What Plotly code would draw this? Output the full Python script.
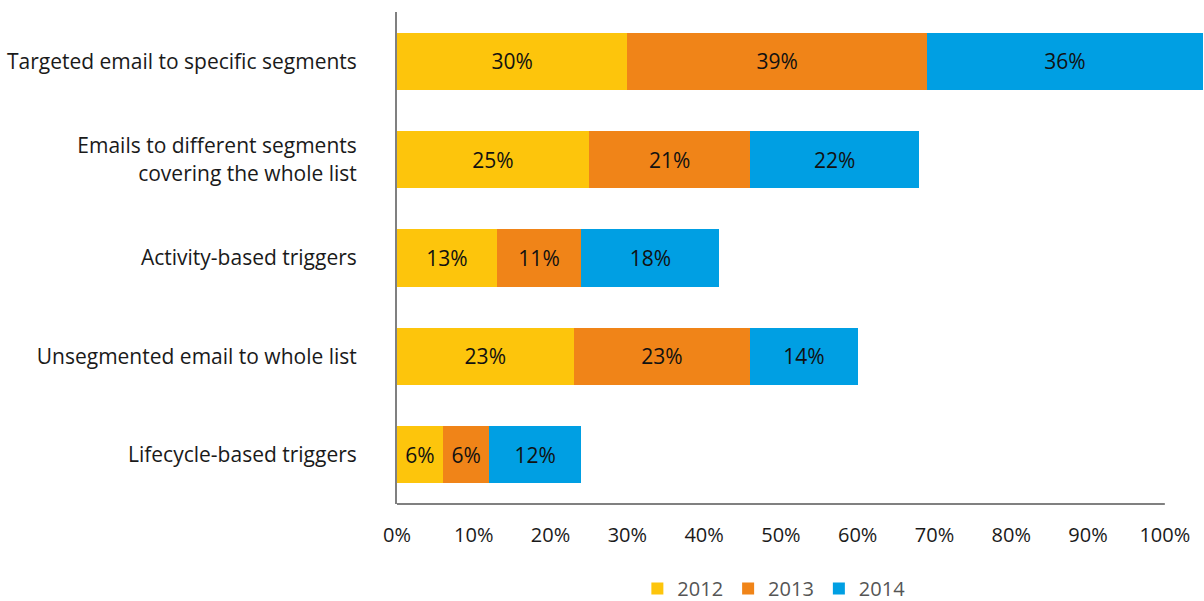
import plotly.graph_objects as go

# ── Data ──────────────────────────────────────────────
categories = [
    "Targeted email to specific segments",
    "Emails to different segments<br>covering the whole list",
    "Activity-based triggers",
    "Unsegmented email to whole list",
    "Lifecycle-based triggers",
]
years = ["2012", "2013", "2014"]
values_2012 = [30, 25, 13, 23, 6]
values_2013 = [39, 21, 11, 23, 6]
values_2014 = [36, 22, 18, 14, 12]
tick_vals = [0, 10, 20, 30, 40, 50, 60, 70, 80, 90, 100]

COLORS = {"2012": "#FDC50C", "2013": "#F08418", "2014": "#009FE3"}
AXIS_COLOR = "#808080"
FONT = "Open Sans, Lato, sans-serif"

series = {"2012": values_2012, "2013": values_2013, "2014": values_2014}

fig = go.Figure()
for yr in years:
    vals = series[yr]
    fig.add_trace(go.Bar(
        y=categories,
        x=vals,
        orientation="h",
        name=yr,
        marker=dict(color=COLORS[yr], line=dict(width=0)),
        text=[f"{v}%" for v in vals],
        textposition="inside",
        insidetextanchor="middle",
        textangle=0,
        constraintext="none",
        textfont=dict(color="#111111", size=21, family=FONT),
    ))

# bottom axis line only spans 0–100%
fig.add_shape(type="line", xref="x", yref="paper", x0=0, x1=100, y0=0, y1=0,
              line=dict(color=AXIS_COLOR, width=2))

fig.update_layout(
    barmode="stack",
    bargap=0.42,
    width=1204,
    height=601,
    paper_bgcolor="white",
    plot_bgcolor="white",
    font=dict(family=FONT, color="#1a1a1a", size=18),
    margin=dict(l=397, r=0, t=12, b=97, autoexpand=False),
    xaxis=dict(
        range=[0, 105.1],
        tickvals=tick_vals,
        ticktext=[f"{v}%" for v in tick_vals],
        showgrid=False,
        zeroline=False,
        showline=False,
        ticks="",
        automargin=False,
        ticklabelstandoff=17,
        tickfont=dict(size=20, color="#1a1a1a"),
    ),
    yaxis=dict(
        categoryorder="array",
        categoryarray=categories,
        autorange="reversed",
        showgrid=False,
        zeroline=False,
        showline=True,
        linecolor=AXIS_COLOR,
        linewidth=2,
        ticks="",
        automargin=False,
        ticklabelstandoff=34,
        tickfont=dict(size=21, color="#1a1a1a"),
    ),
    legend=dict(
        orientation="h",
        x=0.467,
        xanchor="center",
        y=-0.172,
        yanchor="middle",
        font=dict(size=20, color="#555555"),
        itemwidth=30,
        traceorder="normal",
    ),
    showlegend=True,
)

# drop the default 8px body margin so the figure sits flush in the window
fig.write_html("out.html",
               config={"displayModeBar": False},
               post_script="document.body.style.margin='0';document.body.style.overflow='hidden';")
